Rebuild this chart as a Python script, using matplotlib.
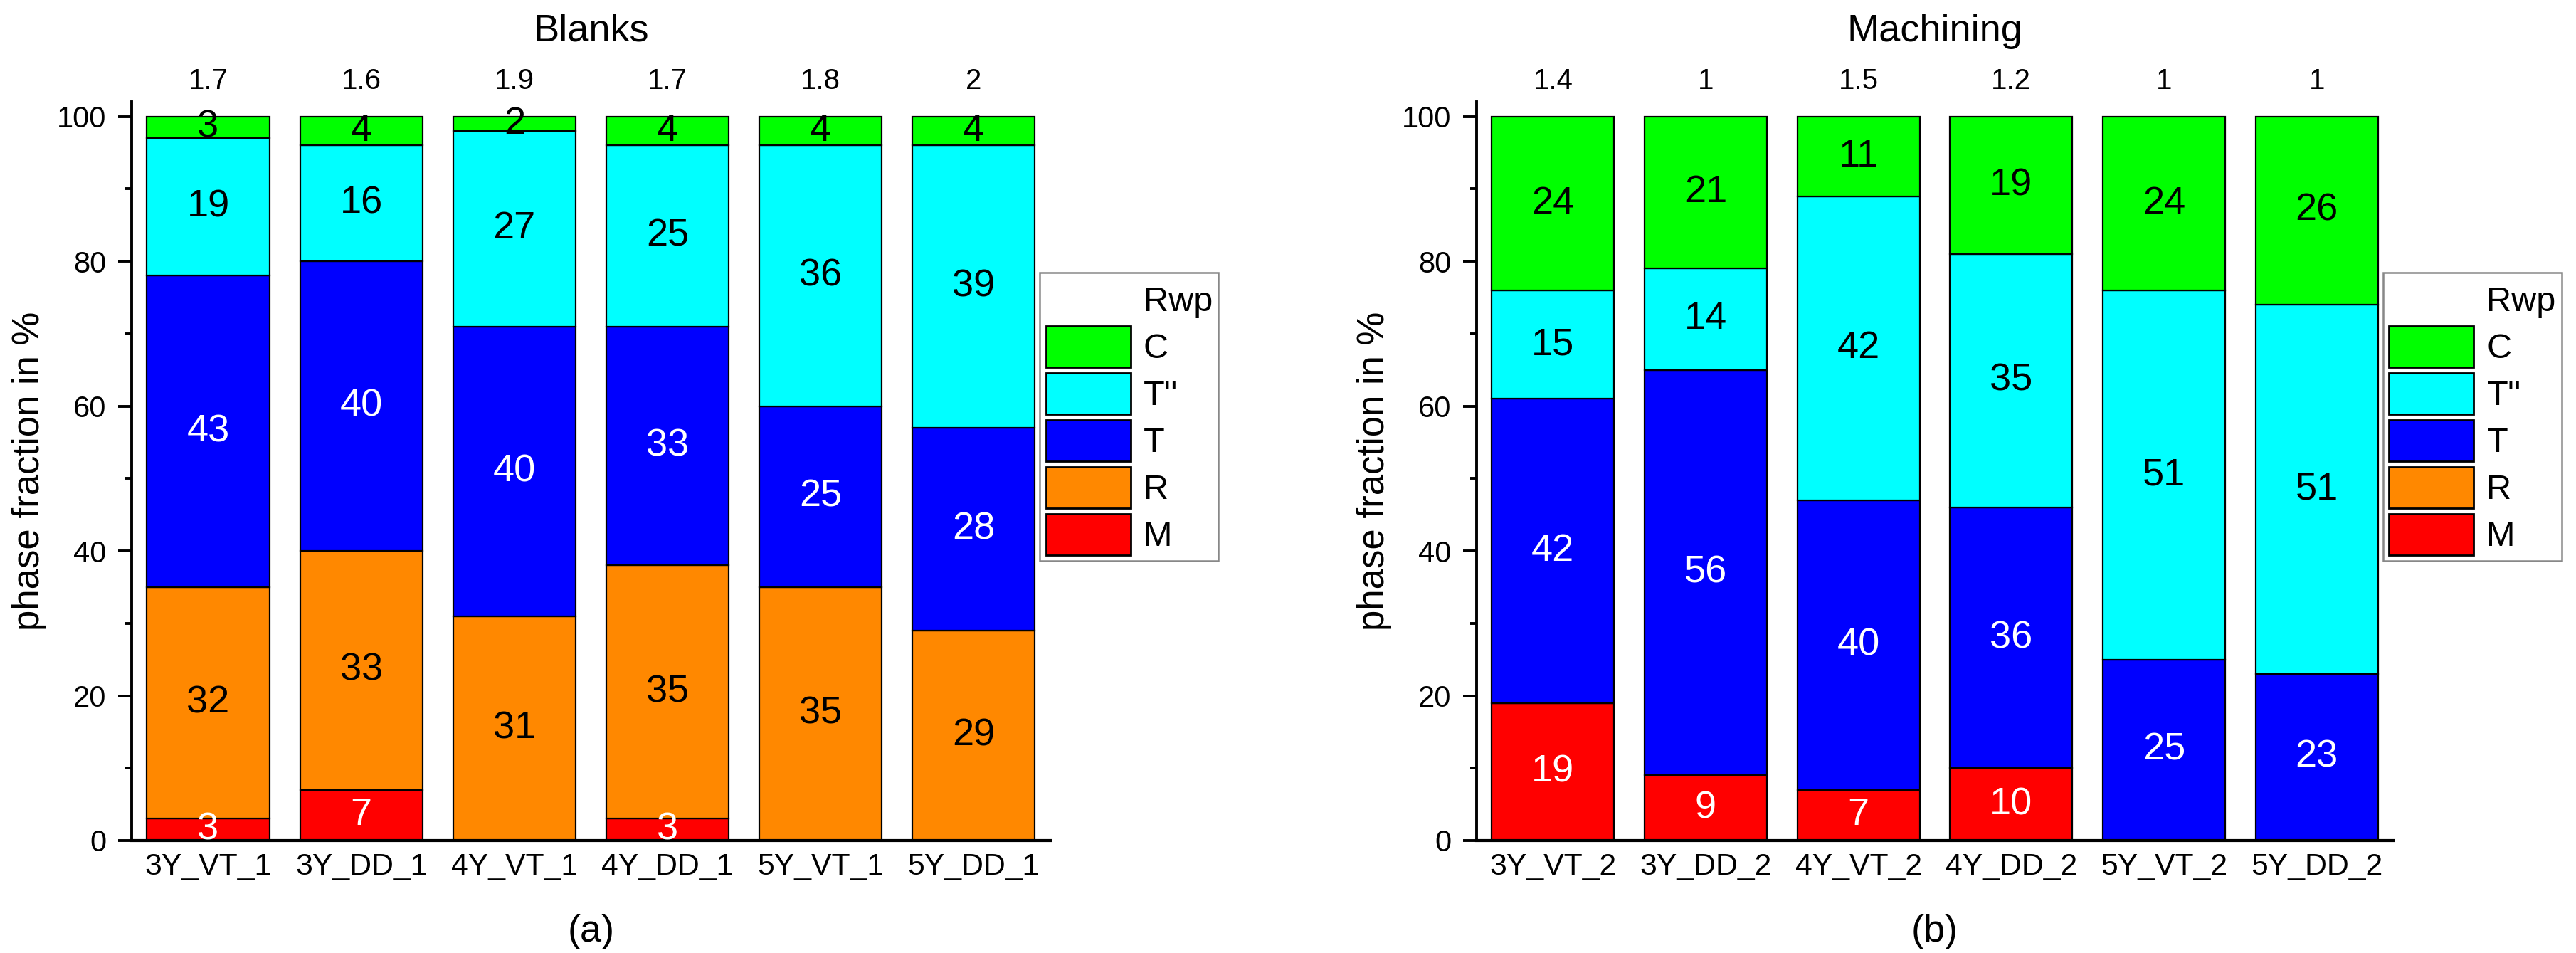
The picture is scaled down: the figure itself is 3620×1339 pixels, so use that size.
import numpy as np
import matplotlib
matplotlib.use('Agg')
import matplotlib.pyplot as plt
from matplotlib.patches import Rectangle
from matplotlib.ticker import MultipleLocator

plt.rcParams['font.family'] = ['Liberation Sans', 'DejaVu Sans']

phases = ['M', 'R', 'T', "T''", 'C']
colors = ['#FF0000', '#FF8800', '#0000FF', '#00FFFF', '#00FF00']
text_colors = ['white', 'black', 'white', 'black', 'black']

# (a) Blanks
blank_names = ['3Y_VT_1', '3Y_DD_1', '4Y_VT_1', '4Y_DD_1', '5Y_VT_1', '5Y_DD_1']
blank_M = [3, 7, 0, 3, 0, 0]
blank_R = [32, 33, 31, 35, 35, 29]
blank_T = [43, 40, 40, 33, 25, 28]
blank_T2 = [19, 16, 27, 25, 36, 39]
blank_C = [3, 4, 2, 4, 4, 4]
blank_rwp = ['1.7', '1.6', '1.9', '1.7', '1.8', '2']

# (b) Machining
mach_names = ['3Y_VT_2', '3Y_DD_2', '4Y_VT_2', '4Y_DD_2', '5Y_VT_2', '5Y_DD_2']
mach_M = [19, 9, 7, 10, 0, 0]
mach_R = [0, 0, 0, 0, 0, 0]
mach_T = [42, 56, 40, 36, 25, 23]
mach_T2 = [15, 14, 42, 35, 51, 51]
mach_C = [24, 21, 11, 19, 24, 26]
mach_rwp = ['1.4', '1', '1.5', '1.2', '1', '1']

fig = plt.figure(figsize=(18.1, 6.695), dpi=200)
ax1 = fig.add_axes([0.0511, 0.118, 0.3566, 0.775])
ax2 = fig.add_axes([0.5732, 0.118, 0.3558, 0.775])


def draw_panel(ax, names, series, rwp, title, tag, leg_x):
    x = np.arange(len(names))
    bottom = np.zeros(len(names))
    for vals, col, tcol in zip(series, colors, text_colors):
        vals = np.array(vals, dtype=float)
        ax.bar(x, vals, 0.8, bottom=bottom, color=col, edgecolor='black', linewidth=0.8)
        for xi, b, v in zip(x, bottom, vals):
            if v > 0:
                ax.text(xi, b + v / 2, '%d' % v, ha='center', va='center',
                        fontsize=19.5, color=tcol)
        bottom += vals
    for xi, r in zip(x, rwp):
        ax.text(xi, 103.8, r, ha='center', va='baseline', fontsize=14.5, clip_on=False)
    ax.text(2.5, 110.4, title, ha='center', va='baseline', fontsize=19.5, clip_on=False)
    ax.text(2.5, -12.6, tag, ha='center', va='center', fontsize=19.5, clip_on=False)

    ax.set_xlim(-0.5, 5.5)
    ax.set_ylim(0, 102)
    ax.set_xticks(x)
    ax.set_xticklabels(names)
    ax.yaxis.set_major_locator(MultipleLocator(20))
    ax.yaxis.set_minor_locator(MultipleLocator(10))
    ax.set_ylabel('phase fraction in %', fontsize=19, labelpad=5)
    ax.spines['top'].set_visible(False)
    ax.spines['right'].set_visible(False)
    ax.spines['left'].set_linewidth(1.4)
    ax.spines['bottom'].set_linewidth(1.5)
    ax.tick_params(axis='x', length=0, pad=6, labelsize=15.4)
    ax.tick_params(axis='y', which='major', length=6.8, width=1.4, pad=6, labelsize=15)
    ax.tick_params(axis='y', which='minor', length=3.3, width=1.4)

    handles = [Rectangle((0, 0), 1, 1, fill=False, edgecolor='none')]
    labels = ['Rwp']
    for i in range(len(phases) - 1, -1, -1):
        handles.append(Rectangle((0, 0), 1, 1, facecolor=colors[i],
                                 edgecolor='black', linewidth=1.0))
        labels.append(phases[i])
    leg = fig.legend(handles, labels, loc='upper left', bbox_to_anchor=(leg_x, 0.714),
                     bbox_transform=fig.transFigure, borderaxespad=0, fontsize=17.5,
                     handlelength=2.45, handleheight=1.46, labelspacing=0.165,
                     handletextpad=0.37, borderpad=0.175, fancybox=False,
                     framealpha=1, edgecolor='#888888')
    leg.get_frame().set_linewidth(0.9)


draw_panel(ax1, blank_names, [blank_M, blank_R, blank_T, blank_T2, blank_C],
           blank_rwp, 'Blanks', '(a)', 0.4036)
draw_panel(ax2, mach_names, [mach_M, mach_R, mach_T, mach_T2, mach_C],
           mach_rwp, 'Machining', '(b)', 0.9251)

fig.savefig('out.png', dpi=200)
